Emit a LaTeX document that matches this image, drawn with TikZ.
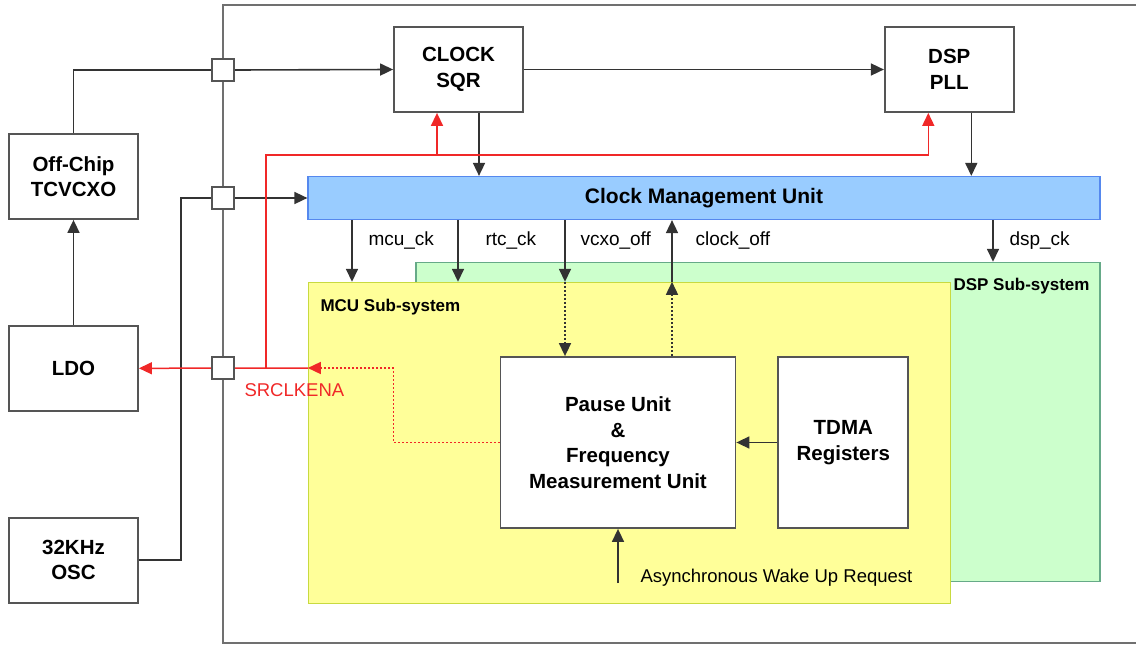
\documentclass[tikz,border=0pt]{standalone}
\usepackage{fontspec}
\setmainfont{Liberation Sans}
\usetikzlibrary{arrows.meta, positioning}

\definecolor{boxgray}{HTML}{555555}
\definecolor{linegray}{HTML}{333333}
\definecolor{chipgray}{HTML}{707070}
\definecolor{sigred}{HTML}{F02828}
\definecolor{cmufill}{HTML}{99CCFF}
\definecolor{cmudraw}{HTML}{5588EE}
\definecolor{mcufill}{HTML}{FFFF99}
\definecolor{mcudraw}{HTML}{C8DA40}
\definecolor{dspfill}{HTML}{CCFFCC}
\definecolor{dspdraw}{HTML}{66AA88}

\begin{document}
\begin{tikzpicture}[
  x=1pt, y=-1pt,
  box/.style={draw=boxgray, rectangle, line width=1.8pt, fill=white,
              minimum width=129pt, minimum height=85pt,
              font=\fontsize{20.5}{25.5}\selectfont\bfseries, align=center,
              inner sep=2pt},
  pad/.style={draw=boxgray, fill=white, line width=1.4pt,
              minimum size=22pt, inner sep=0pt},
  cmubar/.style={draw=cmudraw, fill=cmufill, line width=1.2pt,
                 minimum width=792pt, minimum height=43pt,
                 font=\fontsize{21}{24}\selectfont\bfseries},
  subsys/.style={rectangle, line width=1.4pt, inner sep=0pt},
  sublabel/.style={font=\fontsize{17}{20}\selectfont\bfseries, anchor=base west},
  sig/.style={font=\fontsize{19}{22}\selectfont, anchor=base west},
  line/.style={draw=linegray, line width=1.6pt},
  arrow/.style={line, -{Triangle[length=13pt, width=12pt]}},
  dotarrow/.style={arrow, dash pattern=on 2pt off 2pt},
  redline/.style={draw=sigred, line width=1.5pt},
  redarrow/.style={redline, -{Triangle[length=13pt, width=12pt]}},
  reddash/.style={redarrow, dash pattern=on 2pt off 2pt},
]
  \useasboundingbox (0,0) rectangle (1136,645);

  % chip boundary
  \draw[draw=chipgray, line width=1.6pt] (1136,5) -- (223,5) -- (223,643) -- (1136,643);

  % sub-systems
  \node[subsys, draw=dspdraw, fill=dspfill, minimum width=684pt, minimum height=319pt]
    (dsp) at (758,422) {};
  \node[subsys, draw=mcudraw, fill=mcufill, minimum width=642pt, minimum height=321pt]
    (mcu) at (629.5,443) {};
  \node[sublabel] (dsplbl) at (950,290) {DSP Sub-system};
  \node[sublabel] (mculbl) at (317,311) {MCU Sub-system};

  % off-chip blocks
  \node[box] (tcvcxo) at (73.5,176.5) {Off-Chip\\TCVCXO};
  \node[box, below=105pt of tcvcxo] (ldo) {LDO};
  \node[box, below=105pt of ldo] (osc) {32KHz\\OSC};

  % clock sources
  \node[box] (sqr) at (458.5,69.5) {CLOCK\\SQR};
  \node[box, right=360pt of sqr] (pll) {DSP\\PLL};
  \node[cmubar] (cmu) at (704,198) {Clock Management Unit};

  % MCU blocks
  \node[box, minimum width=235pt, minimum height=171pt] (pause) at (618,442.5)
    {Pause Unit\\\&\\Frequency\\Measurement Unit};
  \node[box, minimum width=130pt, minimum height=171pt, right=41pt of pause] (tdma)
    {TDMA\\Registers};

  % pads
  \node[pad] (pad1) at (223,70) {};
  \node[pad] (pad2) at (223,198) {};
  \node[pad] (pad3) at (223,368) {};

  % clock paths
  \draw[line] (tcvcxo.north) |- (pad1.west);
  \draw[arrow] (pad1.east) -- (sqr.west);
  \draw[arrow] (sqr.east) -- (pll.west);
  \draw[arrow] (ldo.north) -- (tcvcxo.south);
  \draw[line] (osc.east) -- ++(42,0) |- (pad2.west);
  \draw[arrow] (pad2.east) -- (cmu.west);

  \coordinate (sqrout) at ([xshift=20.5pt]sqr.south);
  \coordinate (pllout) at ([xshift=22pt]pll.south);
  \draw[arrow] (sqrout) -- (sqrout |- cmu.north);
  \draw[arrow] (pllout) -- (pllout |- cmu.north);

  % CMU outputs
  \coordinate (mcuck) at (352,0);
  \coordinate (rtcck) at (458,0);
  \coordinate (vcxooff) at (565,0);
  \coordinate (clockoff) at (672,0);
  \coordinate (dspck) at (993,0);
  \draw[arrow] (mcuck |- cmu.south) -- (mcuck |- mcu.north);
  \draw[arrow] (rtcck |- cmu.south) -- (rtcck |- mcu.north);
  \draw[arrow] (vcxooff |- cmu.south) -- (vcxooff |- mcu.north);
  \draw[dotarrow] (vcxooff |- mcu.north) -- (vcxooff |- pause.north);
  \draw[dotarrow] (clockoff |- pause.north) -- (clockoff |- mcu.north);
  \draw[arrow] (clockoff |- mcu.north) -- (clockoff |- cmu.south);
  \draw[arrow] (dspck |- cmu.south) -- (dspck |- dsp.north);
  \node[sig] (lblmcu) at (365,245) {mcu\_ck};
  \node[sig] (lblrtc) at (482,245) {rtc\_ck};
  \node[sig] (lblvcxo) at (577,245) {vcxo\_off};
  \node[sig] (lblclk) at (692,245) {clock\_off};
  \node[sig] (lbldsp) at (1006,245) {dsp\_ck};

  \draw[arrow] (tdma.west) -- (pause.east);
  \coordinate (wakesrc) at (618,583);
  \draw[arrow] (wakesrc) -- (wakesrc |- pause.south);
  \node[sig, font=\fontsize{18.5}{22}\selectfont] (wake) at (637,582)
    {Asynchronous Wake Up Request};

  % SRCLKENA
  \coordinate (redsplit) at (266,155);
  \coordinate (sqrin) at ([xshift=-21.5pt]sqr.south);
  \coordinate (pllin) at ([xshift=-21pt]pll.south);
  \draw[redarrow] (redsplit |- pad3) -- (redsplit) -| (pllin);
  \draw[redarrow] (redsplit -| sqrin) -- (sqrin);
  \draw[reddash] (pause.west) -- ++(-106,0) |- (mcu.west |- pad3);
  \draw[redarrow] (mcu.west |- pad3) -- (ldo.east);
  \node[sig, text=sigred, font=\fontsize{18.5}{22}\selectfont] (srclkena) at (241,396)
    {SRCLKENA};

  % pads on top
  \node[pad] at (pad1) {};
  \node[pad] at (pad2) {};
  \node[pad] at (pad3) {};
\end{tikzpicture}
\end{document}
